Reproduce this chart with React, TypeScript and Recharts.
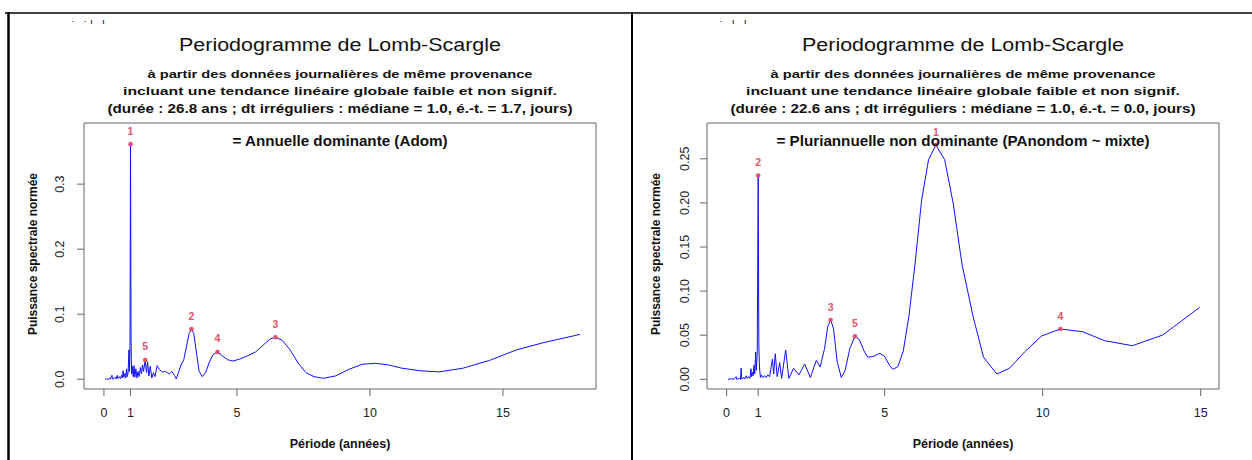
import { ComposedChart, Line, Scatter, XAxis, YAxis, ReferenceArea, LabelList } from 'recharts'

const W = 626
const H = 460
const FONT = '"Liberation Sans", Arial, Helvetica, sans-serif'
const RED = '#df536b'

const periodTicks = [0, 1, 5, 10, 15]

const titleText = 'Periodogramme de Lomb-Scargle'
const subtitleLines = [
  'à partir des données journalières de même provenance',
  'incluant une tendance linéaire globale faible et non signif.',
]
const xTitle = 'Période (années)'
const yTitle = 'Puissance spectrale normée'

// station A : 26.8 years of daily data
const summaryA = '(durée : 26.8 ans ; dt irréguliers : médiane = 1.0, é.-t. = 1.7, jours)'
const verdictA = '= Annuelle dominante (Adom)'
const periodsA = [
  0.04, 0.1, 0.18, 0.22, 0.24, 0.3, 0.32, 0.38, 0.42, 0.45, 0.5, 0.53, 0.58, 0.62, 0.66, 0.69,
  0.72, 0.75, 0.79, 0.82, 0.85, 0.88, 0.91, 0.94, 0.96, 0.98, 1.0, 1.02, 1.04, 1.07, 1.1, 1.13,
  1.16, 1.2, 1.24, 1.28, 1.32, 1.37, 1.41, 1.45, 1.49, 1.55, 1.6, 1.64, 1.69, 1.74, 1.8, 1.86,
  1.92, 2.0, 2.08, 2.2, 2.32, 2.45, 2.55, 2.65, 2.72, 2.8, 2.9, 3.0, 3.1, 3.2, 3.29, 3.38, 3.48,
  3.58, 3.7, 3.82, 3.95, 4.1, 4.27, 4.45, 4.65, 4.85, 5.1, 5.4, 5.7, 6.0, 6.25, 6.45, 6.7, 7.0,
  7.3, 7.6, 7.9, 8.25, 8.7, 9.2, 9.7, 10.2, 10.7, 11.2, 11.9, 12.6, 13.5, 14.5, 15.5, 16.5, 17.9,
]
const powerA = [
  0, 0.0005, 0.0003, 0.002, 0, 0.006, 0.0005, 0.001, 0.003, 0.0005, 0.006, 0.001, 0.004, 0.001, 0.006, 0.002,
  0.013, 0.003, 0.009, 0.002, 0.016, 0.004, 0.011, 0.045, 0.012, 0.05, 0.3615, 0.06, 0.008, 0.02, 0.004, 0.021,
  0.003, 0.016, 0.002, 0.012, 0.004, 0.018, 0.008, 0.022, 0.012, 0.0297, 0.01, 0.027, 0.005, 0.02, 0.002, 0.01,
  0.004, 0.021, 0.015, 0.011, 0.012, 0.008, 0.012, 0.006, 0.0005, 0.01, 0.022, 0.03, 0.05, 0.07, 0.077, 0.07, 0.04,
  0.012, 0.004, 0.01, 0.025, 0.038, 0.042, 0.036, 0.03, 0.028, 0.031, 0.036, 0.042, 0.053, 0.062, 0.0646, 0.06, 0.045,
  0.025, 0.01, 0.004, 0.0015, 0.005, 0.015, 0.023, 0.0245, 0.022, 0.017, 0.013, 0.0113, 0.017, 0.029, 0.045, 0.056, 0.069,
]
const peakRankA = [1, 2, 3, 4, 5]
const peakPeriodA = [1.0, 3.29, 6.45, 4.27, 1.55]
const peakPowerA = [0.3615, 0.077, 0.0646, 0.042, 0.0297]
const yTicksA = [0, 0.1, 0.2, 0.3]

// station B : 22.6 years of daily data
const summaryB = '(durée : 22.6 ans ; dt irréguliers : médiane = 1.0, é.-t. = 0.0, jours)'
const verdictB = '= Pluriannuelle non dominante (PAnondom ~ mixte)'
const periodsB = [
  0.04, 0.15, 0.22, 0.3, 0.32, 0.4, 0.44, 0.46, 0.48, 0.55, 0.58, 0.62, 0.66, 0.7, 0.74, 0.77,
  0.79, 0.82, 0.84, 0.87, 0.89, 0.92, 0.94, 0.97, 1.0, 1.02, 1.04, 1.07, 1.1, 1.14, 1.2, 1.25,
  1.3, 1.36, 1.45, 1.49, 1.54, 1.6, 1.68, 1.74, 1.87, 1.97, 2.12, 2.29, 2.47, 2.65, 2.84, 2.96,
  3.1, 3.2, 3.29, 3.38, 3.5, 3.63, 3.75, 3.9, 4.06, 4.2, 4.35, 4.47, 4.65, 4.84, 5.0, 5.15, 5.26,
  5.42, 5.59, 5.77, 5.96, 6.17, 6.39, 6.62, 6.9, 7.17, 7.45, 7.8, 8.13, 8.55, 8.95, 9.43, 9.96,
  10.56, 11.26, 11.96, 12.84, 13.8, 14.97,
]
const powerB = [
  0, 0.0005, 0, 0.003, 0, 0.001, 0, 0.0125, 0.0005, 0.002, 0.0005, 0.004, 0.001, 0.003, 0.001, 0.012,
  0.003, 0.008, 0.004, 0.016, 0.006, 0.031, 0.01, 0.03, 0.231, 0.04, 0.014, 0.002, 0.005, 0.002, 0.004, 0.002,
  0.005, 0.003, 0.0227, 0.006, 0.029, 0.003, 0.019, 0.001, 0.0332, 0.001, 0.0125, 0.005, 0.0174, 0.002, 0.0215, 0.014,
  0.035, 0.06, 0.0672, 0.058, 0.02, 0.002, 0.01, 0.035, 0.0487, 0.045, 0.032, 0.025, 0.026, 0.0295, 0.026, 0.016, 0.0113,
  0.0144, 0.032, 0.072, 0.13, 0.203, 0.249, 0.2656, 0.249, 0.1995, 0.13, 0.071, 0.025, 0.006, 0.0125, 0.031, 0.049,
  0.057, 0.054, 0.0438, 0.0381, 0.0502, 0.0816,
]
const peakRankB = [1, 2, 3, 4, 5]
const peakPeriodB = [6.62, 1.0, 3.29, 10.56, 4.06]
const peakPowerB = [0.2656, 0.231, 0.0672, 0.057, 0.0487]
const yTicksB = [0, 0.05, 0.1, 0.15, 0.2, 0.25]

type Pt = { p: number; v: number }
type Peak = Pt & { rank: number }

const zip = (ps: number[], vs: number[]): Pt[] => ps.map((p, i) => ({ p, v: vs[i] }))
const zipPeaks = (rs: number[], ps: number[], vs: number[]): Peak[] =>
  rs.map((rank, i) => ({ rank, p: ps[i], v: vs[i] }))

interface PanelProps {
  left: number
  axisW: number
  rightM: number
  rows: Pt[]
  peaks: Peak[]
  xDomain: [number, number]
  yDomain: [number, number]
  yTicks: number[]
  digits: number
  yTickMargin: number
  summary: string
  verdict: string
  verdictLen: number
}

function Panel(props: PanelProps) {
  const { left, axisW, rightM, rows, peaks, xDomain, yDomain, yTicks, digits, yTickMargin, summary, verdict, verdictLen } = props
  const cx = (axisW + W - rightM) / 2

  return (
    <div style={{ position: 'absolute', left, top: 0, width: W, height: H }}>
      <ComposedChart width={W} height={H} margin={{ top: 123, right: rightM, bottom: 0, left: 0 }}>
        <XAxis
          type="number"
          dataKey="p"
          domain={xDomain}
          ticks={periodTicks}
          interval={0}
          allowDataOverflow
          height={71}
          axisLine={false}
          tickSize={7}
          tickMargin={12}
          tickLine={{ stroke: '#666' }}
          tick={(t: any) => (
            <text x={t.x} y={t.y} dy="0.71em" textAnchor="middle" fontSize={12.5} fill="#222" fontFamily={FONT}>
              {t.payload.value}
            </text>
          )}
        />
        <YAxis
          type="number"
          dataKey="v"
          domain={yDomain}
          ticks={yTicks}
          interval={0}
          allowDataOverflow
          width={axisW}
          axisLine={false}
          tickSize={7}
          tickMargin={yTickMargin}
          tickLine={{ stroke: '#666' }}
          tick={(t: any) => (
            <text
              x={t.x}
              y={t.y}
              transform={`rotate(-90 ${t.x} ${t.y})`}
              textAnchor="middle"
              fontSize={12.5}
              fill="#222"
              fontFamily={FONT}
            >
              {Number(t.payload.value).toFixed(digits)}
            </text>
          )}
        />
        <ReferenceArea x1={xDomain[0]} x2={xDomain[1]} y1={yDomain[0]} y2={yDomain[1]} fill="none" stroke="#666" strokeWidth={1} />
        <Line data={rows} dataKey="v" type="linear" stroke="#1010ff" strokeWidth={1} dot={false} isAnimationActive={false} />
        <Scatter
          data={peaks}
          dataKey="v"
          fill={RED}
          isAnimationActive={false}
          shape={(s: any) => <circle cx={s.cx} cy={s.cy} r={2.3} fill={RED} />}
        >
          <LabelList dataKey="rank" position="top" offset={5} fill={RED} fontSize={10.5} fontWeight="bold" fontFamily={FONT} />
        </Scatter>
      </ComposedChart>

      <svg width={W} height={H} style={{ position: 'absolute', left: 0, top: 0, pointerEvents: 'none' }} fontFamily={FONT}>
        <text x={cx} y={51} textAnchor="middle" fontSize={18} textLength={322} lengthAdjust="spacingAndGlyphs" fill="#111">
          {titleText}
        </text>
        <text x={cx} y={78} textAnchor="middle" fontSize={11.5} fontWeight="bold" textLength={385} lengthAdjust="spacingAndGlyphs" fill="#111">
          {subtitleLines[0]}
        </text>
        <text x={cx} y={95} textAnchor="middle" fontSize={11.5} fontWeight="bold" textLength={434} lengthAdjust="spacingAndGlyphs" fill="#111">
          {subtitleLines[1]}
        </text>
        <text x={cx} y={113} textAnchor="middle" fontSize={12} fontWeight="bold" textLength={465} lengthAdjust="spacingAndGlyphs" fill="#111">
          {summary}
        </text>
        <text x={cx} y={146} textAnchor="middle" fontSize={14} fontWeight="bold" textLength={verdictLen} lengthAdjust="spacingAndGlyphs" fill="#111">
          {verdict}
        </text>
        <text x={cx} y={448} textAnchor="middle" fontSize={12.5} fontWeight="bold" fill="#111">
          {xTitle}
        </text>
        <text
          x={axisW - 47}
          y={254}
          transform={`rotate(-90 ${axisW - 47} 254)`}
          textAnchor="middle"
          fontSize={12}
          fontWeight="bold"
          fill="#111"
        >
          {yTitle}
        </text>
      </svg>
    </div>
  )
}

export default function App() {
  return (
    <div style={{ position: 'absolute', left: 0, top: 0, width: 1252, height: 460, background: '#fff', overflow: 'hidden' }}>
      <Panel
        left={0}
        axisW={84}
        rightM={30}
        rows={zip(periodsA, powerA)}
        peaks={zipPeaks(peakRankA, peakPeriodA, peakPowerA)}
        xDomain={[-0.75, 18.5]}
        yDomain={[-0.015, 0.394]}
        yTicks={yTicksA}
        digits={1}
        yTickMargin={13}
        summary={summaryA}
        verdict={verdictA}
        verdictLen={215}
      />
      <Panel
        left={626}
        axisW={81}
        rightM={33}
        rows={zip(periodsB, powerB)}
        peaks={zipPeaks(peakRankB, peakPeriodB, peakPowerB)}
        xDomain={[-0.62, 15.58]}
        yDomain={[-0.011, 0.2906]}
        yTicks={yTicksB}
        digits={2}
        yTickMargin={11}
        summary={summaryB}
        verdict={verdictB}
        verdictLen={373}
      />
      {/* table frame around the two figures */}
      <svg width={1252} height={460} style={{ position: 'absolute', left: 0, top: 0, pointerEvents: 'none' }} fontFamily={FONT}>
        <line x1={5} y1={13} x2={1252} y2={13} stroke="#000" strokeWidth={1.5} />
        <line x1={8.5} y1={12} x2={8.5} y2={460} stroke="#000" strokeWidth={2.5} />
        <line x1={632} y1={12} x2={632} y2={460} stroke="#000" strokeWidth={2} />
        <text x={72} y={24} fontSize={7} fontWeight="bold" fill="#222" letterSpacing={4}>{'·  ·ı  ı'}</text>
        <text x={720} y={24} fontSize={7} fontWeight="bold" fill="#222" letterSpacing={4}>{'·  ı  ı'}</text>
      </svg>
    </div>
  )
}
